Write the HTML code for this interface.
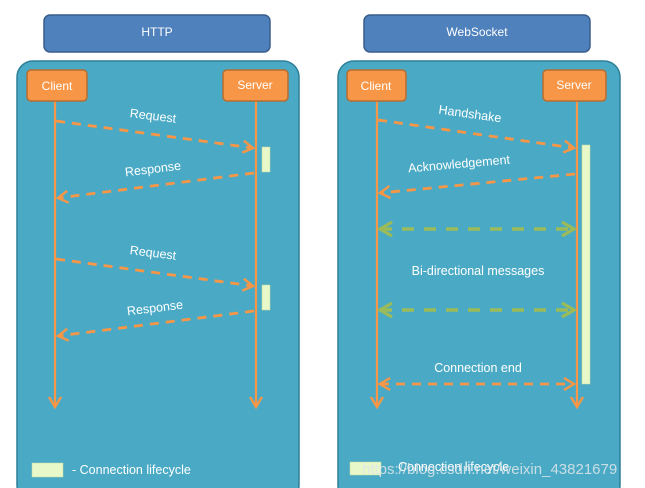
<!DOCTYPE html>
<html><head><meta charset="utf-8"><style>
html,body{margin:0;padding:0;background:#fff;width:645px;height:488px;overflow:hidden}
svg{display:block;font-family:"Liberation Sans","DejaVu Sans",sans-serif}
</style></head><body>
<svg width="645" height="488" viewBox="0 0 645 488" xmlns="http://www.w3.org/2000/svg">
<defs>
<marker id="ao" markerWidth="14" markerHeight="14" refX="11" refY="7" orient="auto" markerUnits="userSpaceOnUse"><path d="M1,1 L11,7 L1,13" fill="none" stroke="#f79646" stroke-width="2.4"/></marker>
<marker id="aos" markerWidth="14" markerHeight="14" refX="11" refY="7" orient="auto-start-reverse" markerUnits="userSpaceOnUse"><path d="M1,1 L11,7 L1,13" fill="none" stroke="#f79646" stroke-width="2.4"/></marker>
<marker id="ag" markerWidth="16" markerHeight="16" refX="13" refY="8" orient="auto-start-reverse" markerUnits="userSpaceOnUse"><path d="M1,1 L13,8 L1,15" fill="none" stroke="#9bbb59" stroke-width="3.2"/></marker>
</defs>
<rect x="44" y="15" width="226" height="37" rx="6" fill="#4f81bd" stroke="#385d8a" stroke-width="1.5"/>
<text x="157" y="36" font-size="12" fill="#fff" text-anchor="middle">HTTP</text>
<rect x="364" y="15" width="226" height="37" rx="6" fill="#4f81bd" stroke="#385d8a" stroke-width="1.5"/>
<text x="477" y="36" font-size="12" fill="#fff" text-anchor="middle">WebSocket</text>
<rect x="17" y="61" width="282" height="440" rx="16" fill="#4aaac5" stroke="#2e7f98" stroke-width="1.5"/>
<rect x="338" y="61" width="282" height="440" rx="16" fill="#4aaac5" stroke="#2e7f98" stroke-width="1.5"/>
<g stroke="#f79646" stroke-width="2.2" fill="none">
<line x1="55" y1="101" x2="55" y2="407" marker-end="url(#ao)"/>
<line x1="256" y1="101" x2="256" y2="407" marker-end="url(#ao)"/>
<line x1="377" y1="101" x2="377" y2="407" marker-end="url(#ao)"/>
<line x1="577" y1="101" x2="577" y2="407" marker-end="url(#ao)"/>
</g>
<g font-size="12" fill="#fff" text-anchor="middle">
<rect x="27" y="70" width="60" height="31" rx="4" fill="#f79646" stroke="#b66d31" stroke-width="1.5"/>
<text x="57" y="90" fill="#fff">Client</text>
<rect x="223" y="70" width="65" height="31" rx="4" fill="#f79646" stroke="#b66d31" stroke-width="1.5"/>
<text x="255" y="89" fill="#fff">Server</text>
<rect x="347" y="70" width="59" height="31" rx="4" fill="#f79646" stroke="#b66d31" stroke-width="1.5"/>
<text x="376" y="90" fill="#fff">Client</text>
<rect x="543" y="70" width="63" height="31" rx="4" fill="#f79646" stroke="#b66d31" stroke-width="1.5"/>
<text x="574" y="89" fill="#fff">Server</text>
</g>
<g fill="#e8f8c8" stroke="#c5dca0" stroke-width="0.5">
<rect x="262" y="147" width="8" height="25"/>
<rect x="262" y="285" width="8" height="25"/>
<rect x="582" y="145" width="8" height="239"/>
</g>
<g stroke="#f79646" stroke-width="2.8" stroke-dasharray="9,7" fill="none">
<line x1="56" y1="121" x2="253" y2="148" marker-end="url(#ao)"/>
<line x1="254" y1="173" x2="58" y2="198" marker-end="url(#ao)"/>
<line x1="56" y1="259" x2="253" y2="286" marker-end="url(#ao)"/>
<line x1="254" y1="311" x2="58" y2="336" marker-end="url(#ao)"/>
<line x1="378" y1="120" x2="574" y2="148" marker-end="url(#ao)"/>
<line x1="575" y1="174" x2="380" y2="193" marker-end="url(#ao)"/>
<line x1="380" y1="384" x2="574" y2="384" marker-start="url(#aos)" marker-end="url(#aos)"/>
</g>
<g stroke="#9bbb59" stroke-width="3.5" stroke-dasharray="12,10" fill="none">
<line x1="380" y1="229" x2="574" y2="229" marker-start="url(#ag)" marker-end="url(#ag)"/>
<line x1="380" y1="310" x2="574" y2="310" marker-start="url(#ag)" marker-end="url(#ag)"/>
</g>
<g font-size="12.5" fill="#fff" text-anchor="middle">
<text x="153" y="120" transform="rotate(7 153 116)">Request</text>
<text x="153" y="173" transform="rotate(-7 153 169)">Response</text>
<text x="153" y="257" transform="rotate(7 153 253)">Request</text>
<text x="155" y="312" transform="rotate(-7 155 308)">Response</text>
<text x="470" y="118" transform="rotate(8 470 114)">Handshake</text>
<text x="459" y="168" transform="rotate(-5 459 164)">Acknowledgement</text>
<text x="478" y="275">Bi-directional messages</text>
<text x="478" y="372">Connection end</text>
</g>
<rect x="32" y="463" width="31" height="14" fill="#e8f8c8" stroke="#c5dca0" stroke-width="0.5"/>
<text x="72" y="474" font-size="12.5" fill="#fff">- Connection lifecycle</text>
<rect x="350" y="462" width="31" height="13" fill="#e8f8c8" stroke="#c5dca0" stroke-width="0.5"/>
<text x="398" y="471" font-size="12.5" fill="#fff">Connection lifecycle</text>
<text x="362" y="474" font-size="15" fill="#dfe6ea" fill-opacity="0.85">https://blog.csdn.net/weixin_43821679</text>
</svg>
</body></html>
